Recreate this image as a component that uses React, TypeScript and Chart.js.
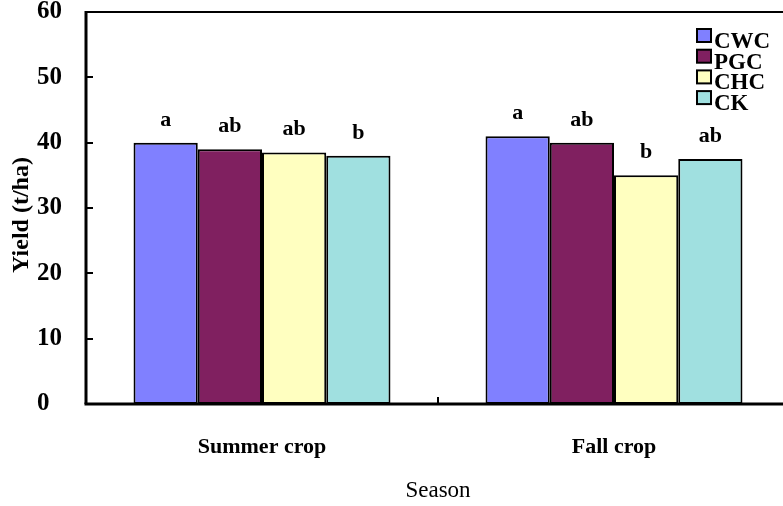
import React, { useEffect, useRef } from "react";
import { Chart, registerables } from "chart.js";

Chart.register(...registerables);

const seasons = ["Summer crop", "Fall crop"];
const treatments = ["CWC", "PGC", "CHC", "CK"];
const cwcValues = [40, 41];
const pgcValues = [39, 40];
const chcValues = [38.5, 35];
const ckValues = [38, 37.5];
const cwcLetters = ["a", "a"];
const pgcLetters = ["ab", "ab"];
const chcLetters = ["ab", "b"];
const ckLetters = ["b", "ab"];
const yTicks = [0, 10, 20, 30, 40, 50, 60];

const colors = ["#8080FF", "#802060", "#FFFFC0", "#A0E0E0"];
const FONT = '"Liberation Serif", "Times New Roman", serif';

export default function App() {
  const ref = useRef<HTMLCanvasElement | null>(null);

  useEffect(() => {
    const canvas = ref.current;
    if (!canvas) return;
    const values = [cwcValues, pgcValues, chcValues, ckValues];
    const letters = [cwcLetters, pgcLetters, chcLetters, ckLetters];

    const decor = {
      id: "decor",
      afterDatasetsDraw(chart: any) {
        const ctx = chart.ctx;
        const { left, right, top, bottom } = chart.chartArea;
        const ys = chart.scales.y;
        const xs = chart.scales.x;
        ctx.save();
        // letters
        ctx.fillStyle = "#000";
        ctx.font = `bold 22px ${FONT}`;
        ctx.textAlign = "center";
        ctx.textBaseline = "alphabetic";
        chart.data.datasets.forEach((ds: any, i: number) => {
          const meta = chart.getDatasetMeta(i);
          meta.data.forEach((el: any, j: number) => {
            ctx.fillText(letters[i][j], el.x, el.y - 17);
          });
        });
        // frame
        ctx.strokeStyle = "#000";
        ctx.lineWidth = 2;
        ctx.beginPath();
        ctx.moveTo(left, top);
        ctx.lineTo(chart.width, top);
        ctx.stroke();
        ctx.lineWidth = 3;
        ctx.beginPath();
        ctx.moveTo(left, top - 1);
        ctx.lineTo(left, bottom);
        ctx.stroke();
        ctx.beginPath();
        ctx.moveTo(left - 1.5, bottom);
        ctx.lineTo(chart.width, bottom);
        ctx.stroke();
        // y ticks inward
        ctx.lineWidth = 2;
        yTicks.forEach((v) => {
          if (v === 0 || v === 60) return;
          const py = Math.round(ys.getPixelForValue(v));
          ctx.beginPath();
          ctx.moveTo(left, py);
          ctx.lineTo(left + 7, py);
          ctx.stroke();
        });
        // x middle tick
        const mx = Math.round((xs.getPixelForValue(0) + xs.getPixelForValue(1)) / 2);
        ctx.beginPath();
        ctx.moveTo(mx, bottom - 7);
        ctx.lineTo(mx, bottom);
        ctx.stroke();
        // legend
        ctx.font = `bold 23px ${FONT}`;
        ctx.textAlign = "left";
        ctx.textBaseline = "alphabetic";
        treatments.forEach((t, i) => {
          const by = 29 + i * 20.7;
          ctx.fillStyle = colors[i];
          ctx.fillRect(697, by, 14, 13);
          ctx.lineWidth = 2;
          ctx.strokeStyle = "#000";
          ctx.strokeRect(697, by, 14, 13);
          ctx.fillStyle = "#000";
          ctx.fillText(t, 714, by + 19);
        });
        // axis titles
        ctx.font = `bold 24px ${FONT}`;
        ctx.textAlign = "center";
        ctx.textBaseline = "middle";
        ctx.save();
        ctx.translate(22, (top + bottom) / 2 + 7);
        ctx.rotate(-Math.PI / 2);
        ctx.fillText("Yield (t/ha)", 0, 0);
        ctx.restore();
        ctx.font = `23px ${FONT}`;
        ctx.fillText("Season", (left + right) / 2, 491);
        ctx.restore();
      },
    };

    const chart = new Chart(canvas, {
      type: "bar",
      data: {
        labels: seasons,
        datasets: treatments.map((t, i) => ({
          label: t,
          data: values[i],
          backgroundColor: colors[i],
          borderColor: "#000",
          borderWidth: 2,
          borderSkipped: false,
          categoryPercentage: 0.73,
          barPercentage: 1,
        })),
      },
      options: {
        responsive: false,
        animation: false,
        devicePixelRatio: 1,
        layout: { padding: { top: 12, right: 10, left: 37, bottom: 0 } },
        plugins: { legend: { display: false }, tooltip: { enabled: false } },
        scales: {
          x: {
            grid: { display: false },
            border: { display: false },
            ticks: {
              color: "#000",
              font: { family: FONT, size: 22, weight: "bold" },
              padding: 22,
              maxRotation: 0,
            },
            afterFit(scale: any) {
              scale.height = 102;
              scale.paddingLeft = 0;
              scale.paddingRight = 0;
            },
          },
          y: {
            min: 0,
            max: 60,
            grid: { display: false },
            border: { display: false },
            ticks: {
              stepSize: 10,
              color: "#000",
              font: { family: FONT, size: 25, weight: "bold" },
              crossAlign: "far",
              padding: 10,
            },
            afterFit(scale: any) {
              scale.width = 49;
              scale.paddingTop = 0;
              scale.paddingBottom = 0;
            },
          },
        },
      },
      plugins: [decor],
    });
    return () => chart.destroy();
  }, []);

  return (
    <div
      style={{
        position: "fixed",
        left: 0,
        top: 0,
        width: 783,
        height: 506,
        overflow: "hidden",
        background: "#fff",
      }}
    >
      <canvas ref={ref} width={800} height={506} style={{ width: 800, height: 506, display: "block" }} />
    </div>
  );
}
